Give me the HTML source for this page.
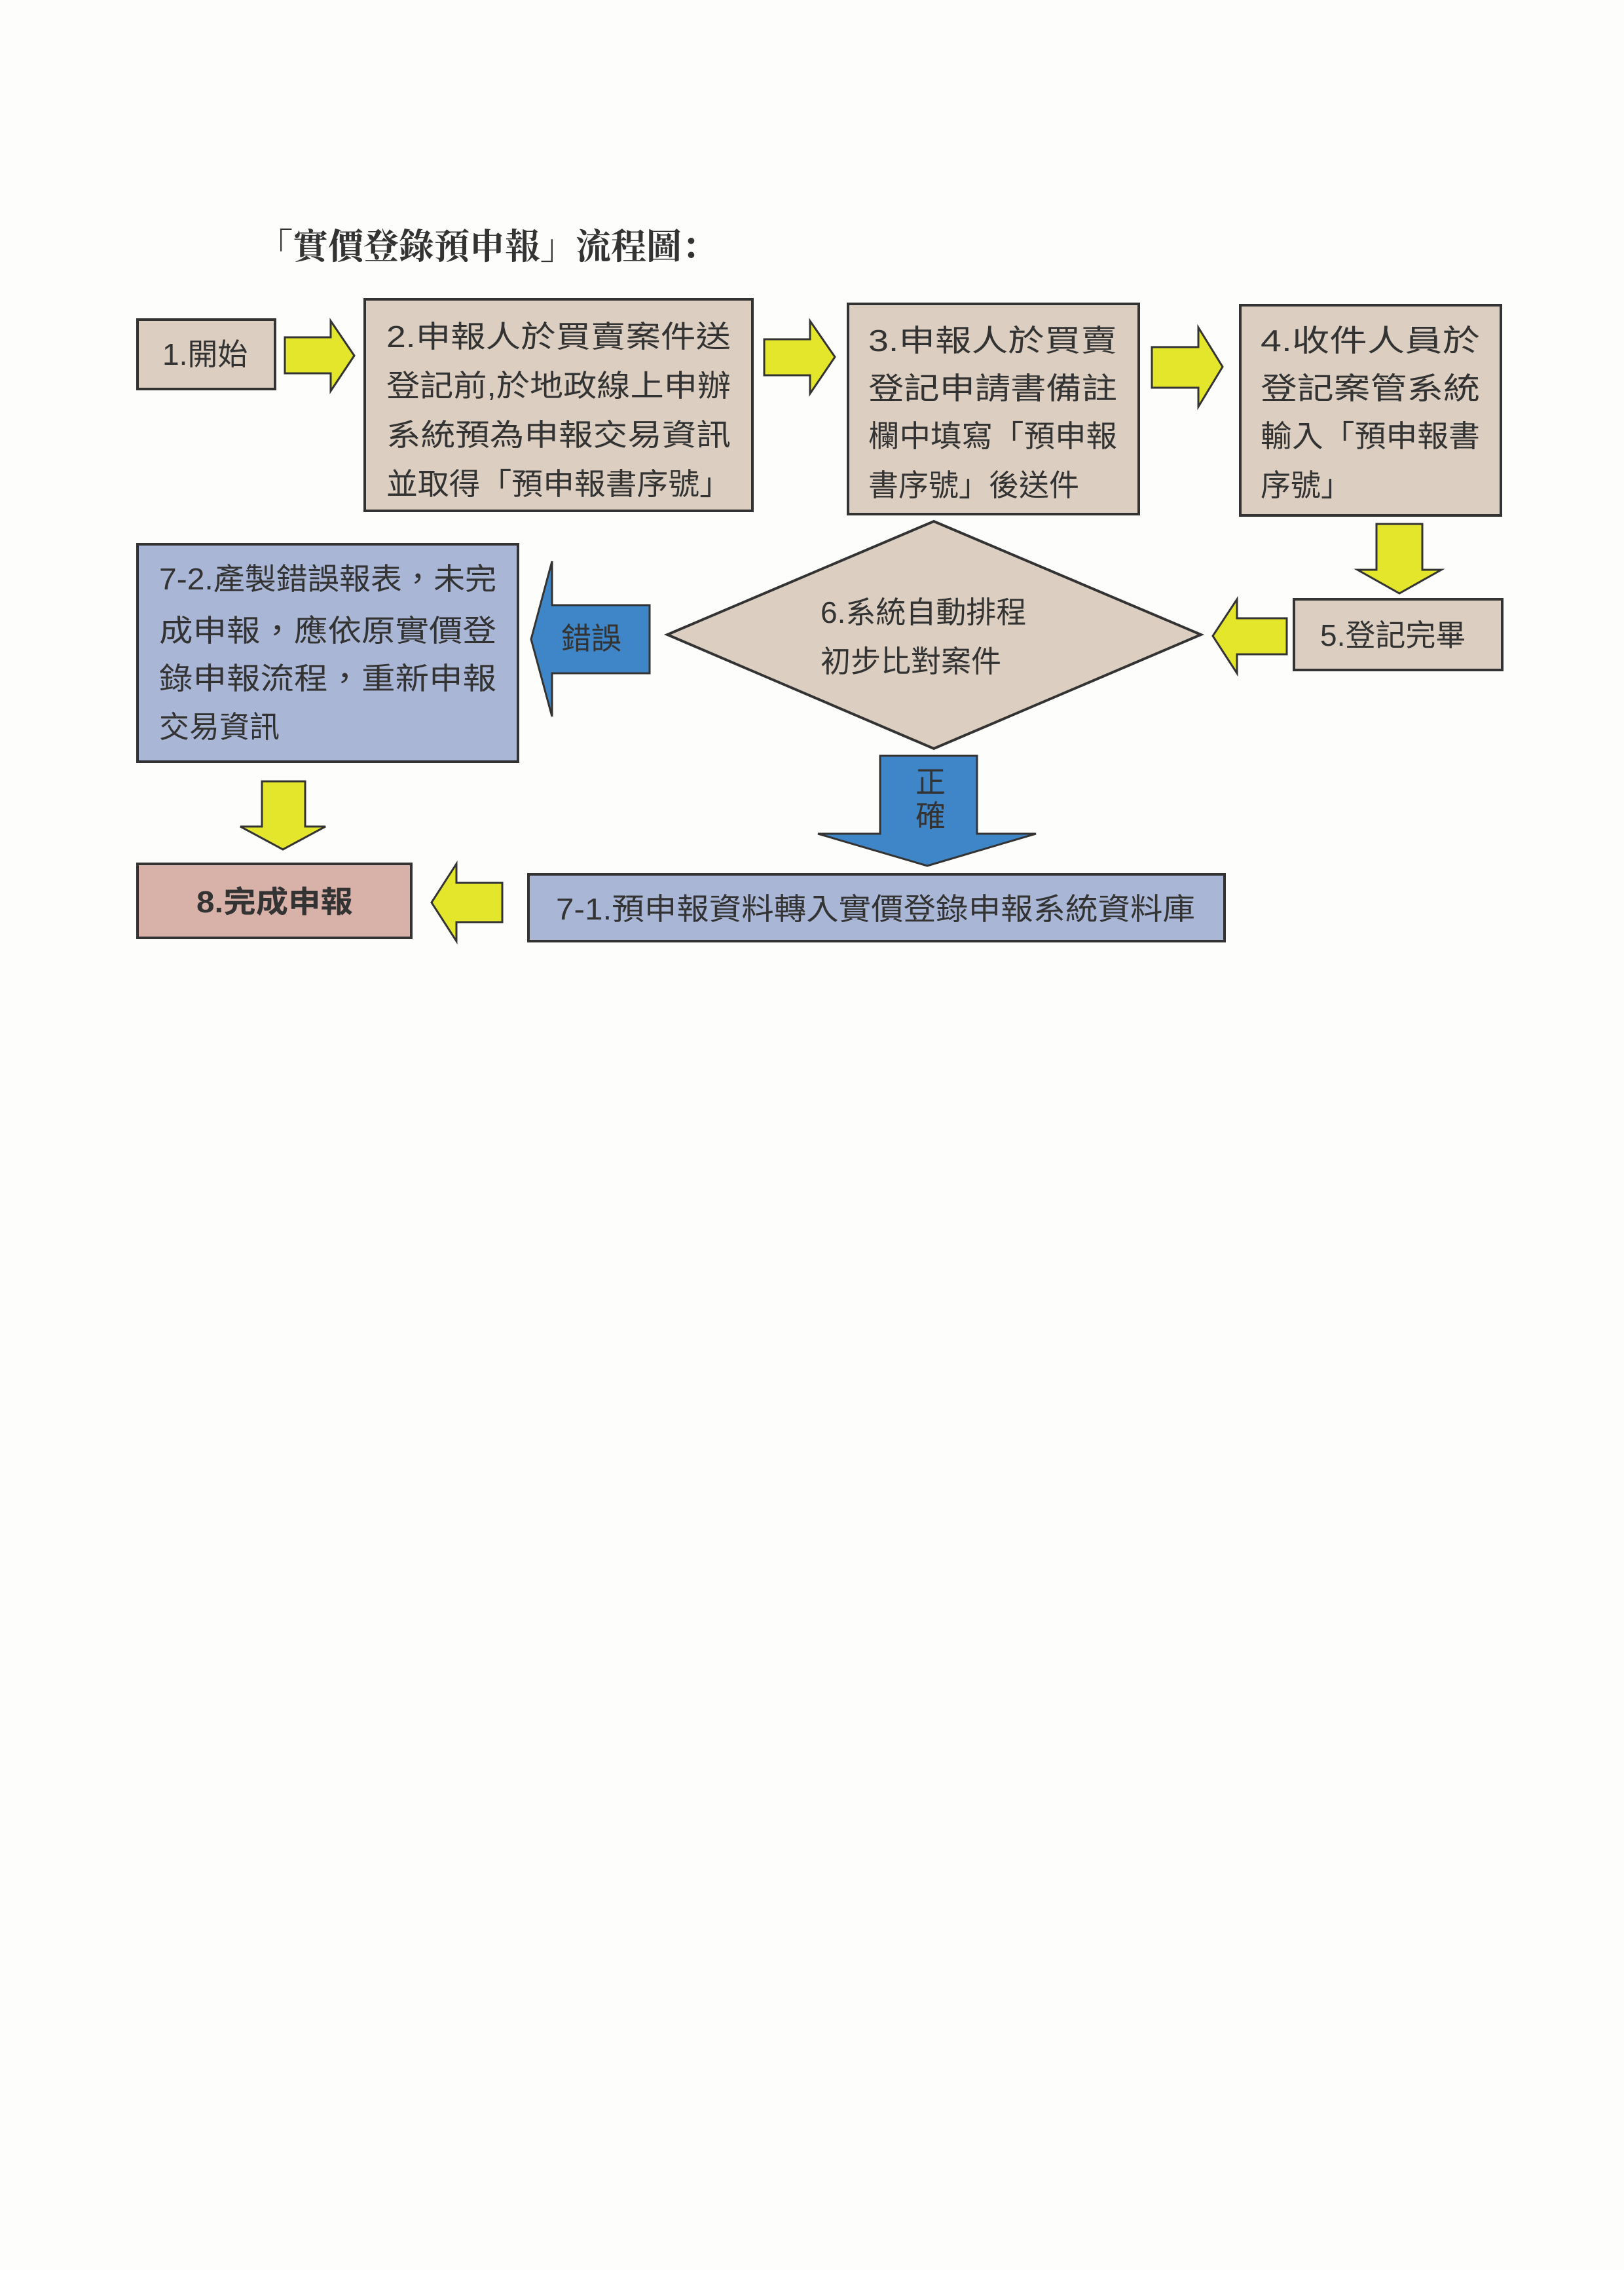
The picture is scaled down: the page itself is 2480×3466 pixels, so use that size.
<!DOCTYPE html>
<html><head><meta charset="utf-8"><style>
html,body{margin:0;padding:0;background:#fdfdfc;}
svg{display:block}
text{font-family:"Liberation Sans","Noto Sans CJK TC",sans-serif;fill:#333;}
</style></head><body>
<svg width="2480" height="3466" viewBox="0 0 2480 3466" xmlns="http://www.w3.org/2000/svg">
<rect width="2480" height="3466" fill="#fdfdfc"/>
<text x="393" y="395" font-size="54" font-weight="bold" style="font-family:'Liberation Serif','Noto Serif CJK SC',serif" fill="#222">「實價登錄預申報」流程圖：</text>

<g stroke="#333" stroke-width="4">
<rect x="210" y="488" width="210" height="106" fill="#dccfc1"/>
<rect x="557" y="457" width="592" height="323" fill="#dccfc1"/>
<rect x="1295" y="464" width="444" height="321" fill="#dccfc1"/>
<rect x="1894" y="466" width="398" height="321" fill="#dccfc1"/>
<rect x="1976" y="915" width="318" height="108" fill="#dccfc1"/>
<polygon points="1426,796 1834,969 1426,1143 1019,969" fill="#dccfc1"/>
<rect x="210" y="831" width="581" height="332" fill="#aab6d6"/>
<rect x="210" y="1319" width="418" height="113" fill="#d8b1a8"/>
<rect x="807" y="1335" width="1063" height="102" fill="#aab6d6"/>
</g>

<g fill="#e4e62c" stroke="#333" stroke-width="3">
<polygon points="435,515 505,515 505,490 541,543 505,597 505,570 435,570"/>
<polygon points="1167,518 1237,518 1237,490 1275,545 1237,601 1237,573 1167,573"/>
<polygon points="1759,530 1830,530 1830,500 1867,560 1830,621 1830,592 1759,592"/>
<polygon points="2102,800 2172,800 2172,870 2201,870 2137,906 2073,870 2102,870"/>
<polygon points="1965,944 1889,944 1889,915 1852,971 1889,1028 1889,999 1965,999"/>
<polygon points="400,1193 466,1193 466,1262 497,1262 432,1297 367,1262 400,1262"/>
<polygon points="767,1348 697,1348 697,1319 659,1378 697,1437 697,1408 767,1408"/>
</g>
<g fill="#3f86c8" stroke="#333" stroke-width="3">
<polygon points="992,924 843,924 843,857 811,976 843,1094 843,1028 992,1028"/>
<polygon points="1344,1154 1492,1154 1492,1273 1582,1273 1416,1322 1249,1273 1344,1273"/>
</g>

<g font-size="46">
<text x="248" y="557">1.開始</text>
<text x="590" y="530" textLength="526" lengthAdjust="spacingAndGlyphs">2.申報人於買賣案件送</text>
<text x="590" y="605" textLength="526" lengthAdjust="spacingAndGlyphs">登記前,於地政線上申辦</text>
<text x="590" y="680" textLength="526" lengthAdjust="spacingAndGlyphs">系統預為申報交易資訊</text>
<text x="590" y="755" textLength="526" lengthAdjust="spacingAndGlyphs">並取得「預申報書序號」</text>
<text x="1326" y="536" textLength="380" lengthAdjust="spacingAndGlyphs">3.申報人於買賣</text>
<text x="1326" y="609" textLength="380" lengthAdjust="spacingAndGlyphs">登記申請書備註</text>
<text x="1326" y="682" textLength="380" lengthAdjust="spacingAndGlyphs">欄中填寫「預申報</text>
<text x="1326" y="757">書序號」後送件</text>
<text x="1925" y="536" textLength="335" lengthAdjust="spacingAndGlyphs">4.收件人員於</text>
<text x="1925" y="609" textLength="335" lengthAdjust="spacingAndGlyphs">登記案管系統</text>
<text x="1925" y="682" textLength="335" lengthAdjust="spacingAndGlyphs">輸入「預申報書</text>
<text x="1925" y="757">序號」</text>
<text x="2016" y="986">5.登記完畢</text>
<text x="1253" y="951">6.系統自動排程</text>
<text x="1253" y="1026">初步比對案件</text>
<text x="243" y="900" textLength="515" lengthAdjust="spacingAndGlyphs">7-2.產製錯誤報表，未完</text>
<text x="243" y="979" textLength="515" lengthAdjust="spacingAndGlyphs">成申報，應依原實價登</text>
<text x="243" y="1052" textLength="515" lengthAdjust="spacingAndGlyphs">錄申報流程，重新申報</text>
<text x="243" y="1126">交易資訊</text>
<text x="300" y="1393" font-weight="bold" textLength="239" lengthAdjust="spacingAndGlyphs">8.完成申報</text>
<text x="849" y="1404" textLength="976" lengthAdjust="spacingAndGlyphs">7-1.預申報資料轉入實價登錄申報系統資料庫</text>
<text x="857" y="991">錯誤</text>
<text x="1398" y="1210">正</text>
<text x="1398" y="1262">確</text>
</g>
</svg>
</body></html>
